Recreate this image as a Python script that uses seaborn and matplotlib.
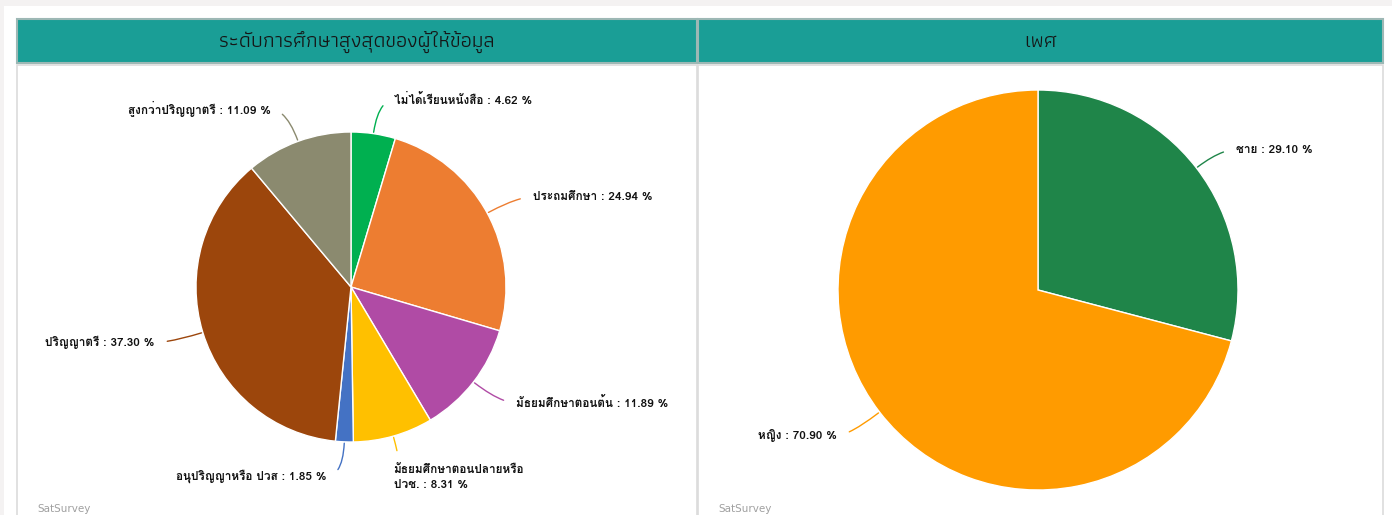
import numpy as np
import pandas as pd
import seaborn as sns
import matplotlib
matplotlib.use("Agg")
from matplotlib import pyplot as plt
from matplotlib import font_manager
from matplotlib.ft2font import FT2Font
from matplotlib.patches import Rectangle

# data
edu_labels = ['ไม่ได้เรียนหนังสือ', 'ประถมศึกษา', 'มัธยมศึกษาตอนต้น',
              'มัธยมศึกษาตอนปลายหรือ\nปวช.', 'อนุปริญญาหรือ ปวส',
              'ปริญญาตรี', 'สูงกว่าปริญญาตรี']
edu_pct = [4.62, 24.94, 11.89, 8.31, 1.85, 37.30, 11.09]
edu_colors = ['#00b050', '#ed7d31', '#b04ba5', '#ffc000', '#4472c4',
              '#9c460c', '#8b8a6f']

sex_labels = ['ชาย', 'หญิง']
sex_pct = [29.10, 70.90]
sex_colors = ['#1f8549', '#ff9b00']

titles = ['ระดับการศึกษาสูงสุดของผู้ให้ข้อมูล', 'เพศ']

# fonts that have thai glyphs
thai = []
for f in font_manager.fontManager.ttflist:
    try:
        cm = FT2Font(f.fname).get_charmap()
    except Exception:
        continue
    if 0x0E01 in cm and f.name not in thai:
        thai.append(f.name)


def pick(prefs):
    for p in prefs:
        if p in thai:
            return p
    return thai[0] if thai else 'DejaVu Sans'


label_font = pick(['Loma', 'Tahoma', 'Waree'])
title_font = pick(['Athiti', 'Loma'])

sns.set_style('white')
plt.rcParams['font.family'] = [label_font, 'DejaVu Sans']

W, H = 1392, 515
fig = plt.figure(figsize=(W / 100, H / 100), dpi=100)
fig.patch.set_facecolor('white')


def px(x, y, w, h):
    # pixel box from top-left -> figure fraction
    return [x / W, 1 - (y + h) / H, w / W, h / H]


def frect(x, y, w, h, **kw):
    fig.patches.append(Rectangle((x / W, 1 - (y + h) / H), w / W, h / H,
                                 transform=fig.transFigure, zorder=-5, **kw))


frect(0, 0, W, 6, facecolor='#f4f2f2', edgecolor='none')
frect(0, 0, 4, H, facecolor='#f4f2f2', edgecolor='none')

panels = [(17, 680), (698, 685)]
for (x0, w), title in zip(panels, titles):
    frect(x0, 19, w, 44, facecolor='#1a9e96', edgecolor='#9db8b5', linewidth=1.5)
    fig.text((x0 + w / 2) / W, 1 - 42 / H, title, ha='center', va='center',
             fontsize=15.5, color='#151515', family=[title_font, 'DejaVu Sans'])
    frect(x0, 65, w, H - 65 + 5, facecolor='white', edgecolor='#dcdcdc', linewidth=1.2)
    fig.text((x0 + 20) / W, 1 - 509 / H, 'SatSurvey', ha='left', va='center',
             fontsize=7.5, color='#a0a0a0', family='DejaVu Sans')


def draw_pie(ax, box, cx, cy, r, vals, labels, colors, gap, nudges):
    bx, by, bw, bh = box
    ax.set_position(px(bx, by, bw, bh))
    wedges, _ = ax.pie(vals, colors=colors, startangle=90, counterclock=False,
                       radius=1, center=(0, 0), frame=True,
                       wedgeprops=dict(edgecolor='white', linewidth=1))
    ax.set_xlim(-(cx - bx) / r, (bx + bw - cx) / r)
    ax.set_ylim(-(by + bh - cy) / r, (cy - by) / r)
    ax.set_axis_off()
    for i, (wdg, lab, v, c) in enumerate(zip(wedges, labels, vals, colors)):
        deg = (wdg.theta1 + wdg.theta2) / 2
        ang = np.deg2rad(deg)
        x, y = np.cos(ang), np.sin(ang)
        rr = 1 + gap / r
        side = 1 if x >= 0 else -1
        dx, dy = nudges.get(i, (0, 0))
        tx = rr * x + side * 16 / r + dx / r
        ty = rr * y - dy / r
        ha = 'left' if side > 0 else 'right'
        ax.annotate(f'{lab} : {v:.2f} %', xy=(x, y), xytext=(tx, ty),
                    ha=ha, va='center', fontsize=8.5, fontweight='bold',
                    color='#111111', linespacing=1.7,
                    arrowprops=dict(arrowstyle='-', color=c, lw=1,
                                    shrinkA=7, shrinkB=1,
                                    relpos=(0 if side > 0 else 1, 0.5),
                                    connectionstyle='angle3,angleA=0,angleB=%.1f' % deg))


ax1 = fig.add_axes([0, 0, 1, 1])
draw_pie(ax1, (18, 66, 677, 449), 351, 287, 155, edu_pct, edu_labels, edu_colors, 34,
         {3: (-25, 8)})
ax2 = fig.add_axes([0, 0, 1, 1])
draw_pie(ax2, (699, 66, 682, 449), 1038, 290, 200, sex_pct, sex_labels, sex_colors, 30,
         {1: (-3, 5)})

fig.savefig('out.png', dpi=100)
